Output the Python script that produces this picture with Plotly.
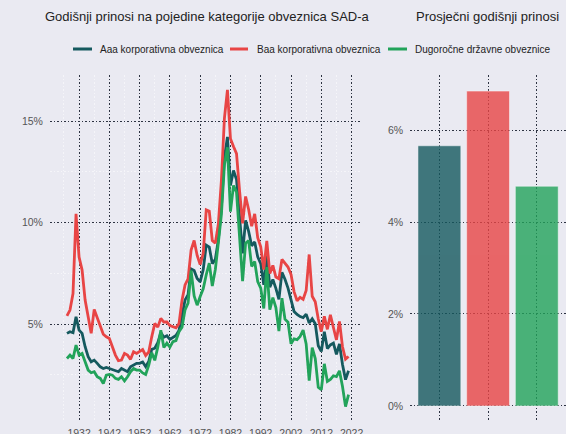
import plotly.graph_objects as go
from plotly.subplots import make_subplots

# godine i prinosi (%), stanje na kraju godine
years = list(range(1928, 2022))

aaa = [
    4.54, 4.62, 4.57, 5.36, 4.70, 4.54, 3.88, 3.39, 3.14, 3.22,
    3.06, 2.89, 2.81, 2.86, 2.81, 2.76, 2.73, 2.65, 2.81, 2.73,
    2.65, 2.89, 2.97, 3.06, 3.06,
    3.13, 2.90, 3.15, 3.75, 3.81, 4.08, 4.58, 4.35, 4.42, 4.24,
    4.35, 4.44, 4.68, 5.39, 6.19, 6.45, 7.72, 7.64, 7.25, 7.08,
    7.68, 8.89, 8.79, 7.98, 8.19, 9.16, 10.74, 13.21, 14.23, 11.83,
    12.57, 12.13, 10.16, 8.49, 10.11, 9.57, 8.86, 9.05, 8.31, 7.98,
    6.93, 8.46, 6.82, 7.20, 6.76, 6.22, 7.55, 7.21, 6.77, 6.21,
    5.62, 5.47, 5.37, 5.32, 5.49, 5.05, 5.26, 5.02, 3.93, 3.65,
    4.62, 3.79, 3.97, 4.06, 3.51, 4.02, 3.01, 2.26, 2.70,
]

baa = [
    5.40, 5.69, 6.50, 10.43, 8.30, 7.66, 6.18, 5.28, 4.54, 5.72,
    5.28, 4.87, 4.50, 4.37, 4.29, 3.88, 3.47, 3.19, 3.22, 3.55,
    3.47, 3.26, 3.63, 3.55, 3.63,
    3.74, 3.45, 3.62, 4.37, 5.03, 4.85, 5.28, 5.10, 5.10, 4.92,
    4.85, 4.81, 5.02, 6.18, 6.93, 7.23, 8.65, 9.12, 8.38, 7.93,
    8.48, 10.63, 10.56, 9.12, 8.99, 9.94, 12.06, 15.14, 16.55, 14.14,
    13.75, 13.40, 11.58, 9.97, 11.29, 10.65, 9.82, 10.43, 9.26, 8.81,
    7.69, 9.10, 7.49, 7.89, 7.32, 7.23, 8.19, 8.02, 7.81, 7.45,
    6.60, 6.15, 6.32, 6.22, 6.65, 8.43, 6.37, 6.10, 5.25, 4.63,
    5.38, 4.74, 5.46, 4.83, 4.22, 5.13, 3.88, 3.27, 3.40,
]

tbond = [
    3.30, 3.47, 3.30, 3.96, 3.47, 3.55, 3.14, 2.73, 2.60, 2.65,
    2.40, 2.32, 2.07, 2.48, 2.52, 2.48, 2.32, 2.27, 2.40, 2.20,
    2.40, 2.65, 2.81, 2.73, 2.73,
    2.59, 2.51, 2.96, 3.59, 3.21, 3.86, 4.69, 3.84, 4.06, 3.86,
    4.13, 4.18, 4.62, 4.84, 5.70, 6.03, 7.65, 6.39, 5.93, 6.36,
    6.74, 7.43, 8.00, 6.87, 7.69, 9.01, 10.39, 12.84, 13.72, 10.54,
    11.83, 11.50, 9.26, 7.11, 8.99, 9.11, 7.84, 8.08, 7.09, 6.77,
    5.77, 7.81, 5.71, 6.30, 5.81, 4.65, 6.28, 5.24, 5.09, 4.03,
    4.27, 4.23, 4.39, 4.70, 4.02, 2.21, 3.84, 3.30, 1.88, 1.76,
    3.04, 2.17, 2.27, 2.45, 2.41, 2.69, 1.92, 0.93, 1.52,
]

series_names = ["Aaa korporativna obveznica", "Baa korporativna obveznica", "Dugoročne državne obveznice"]
avg_yield = [5.66, 6.85, 4.78]

line_ticks = [5, 10, 15]
line_ticktext = ["5%", "10%", "15%"]
bar_ticks = [0, 2, 4, 6]
bar_ticktext = ["0%", "2%", "4%", "6%"]

BG = "#eaeaf2"
GRID = "#2d3342"
colors = ["#15595e", "#e84545", "#22a35a"]
FONT = "Liberation Sans, Arial, sans-serif"

fig = make_subplots(rows=1, cols=2)

for name, vals, col in zip(series_names, [aaa, baa, tbond], colors):
    fig.add_trace(go.Scatter(x=years, y=vals, name=name, mode="lines", showlegend=False,
                             line=dict(color=col, width=2.8)), row=1, col=1)

fig.add_trace(go.Bar(x=series_names, y=avg_yield, marker=dict(color=colors, opacity=0.8,
                     line=dict(color="rgba(255,255,255,0.5)", width=1)),
                     width=0.88, showlegend=False), row=1, col=2)

grid = dict(showgrid=True, gridcolor=GRID, griddash="1.5px,2px", gridwidth=1.2,
            zeroline=False, showline=False, automargin=False,
            ticks="outside", tickcolor="rgba(0,0,0,0)",
            tickfont=dict(size=10.5, color="#555"))
minor = dict(showgrid=True, gridcolor="rgba(255,255,255,0.5)", gridwidth=0.6, ticks="")

fig.update_xaxes(domain=[0, 0.605], range=[1922.4, 2025.5], tick0=1932, dtick=10, ticklen=1,
                 minor=dict(dtick=5, tick0=1932, **minor), **grid, row=1, col=1)
fig.update_yaxes(range=[0.17, 17.28], tickvals=line_ticks, ticktext=line_ticktext, ticklen=4,
                 minor=dict(dtick=2.5, tick0=0, **minor), **grid, row=1, col=1)
fig.update_xaxes(domain=[0.698, 1.0], range=[-0.6, 2.6], showticklabels=False, ticklen=1,
                 **grid, row=1, col=2)
fig.update_yaxes(range=[-0.35, 7.2], tickvals=bar_ticks, ticktext=bar_ticktext, ticklen=4,
                 **grid, row=1, col=2)

fig.add_annotation(text="Godišnji prinosi na pojedine kategorije obveznica SAD-a",
                   x=(207.5 - 50) / 516, y=1 + (75 - 17) / 347, xref="paper", yref="paper",
                   xanchor="center", yanchor="middle", showarrow=False,
                   font=dict(size=13, color="#222"))
fig.add_annotation(text="Prosječni godišnji prinosi", x=(487 - 50) / 516, y=1 + (75 - 17) / 347,
                   xref="paper", yref="paper", xanchor="center", yanchor="middle",
                   showarrow=False, font=dict(size=13, color="#222"))

# legenda iznad linijskog grafa
legend_swatch_px = [(73, 92), (230, 248), (388, 407)]
legend_text_px = [98, 255, 413]
leg_y = 1 + (75 - 49) / 347
for name, col, (sx0, sx1), tx in zip(series_names, colors, legend_swatch_px, legend_text_px):
    fig.add_shape(type="line", xref="paper", yref="paper",
                  x0=(sx0 - 50) / 516, x1=(sx1 - 50) / 516, y0=leg_y, y1=leg_y,
                  line=dict(color=col, width=3))
    fig.add_annotation(text=name, x=(tx - 50) / 516, y=leg_y, xref="paper", yref="paper",
                       xanchor="left", yanchor="middle", showarrow=False,
                       font=dict(size=10, color="#222"))

fig.update_layout(
    width=566, height=434,
    margin=dict(l=50, r=0, t=75, b=12),
    paper_bgcolor=BG, plot_bgcolor=BG,
    font=dict(family=FONT, color="#555"),
)

fig.write_html("out.html", config={"displayModeBar": False},
               post_script="document.body.style.margin='0';")
